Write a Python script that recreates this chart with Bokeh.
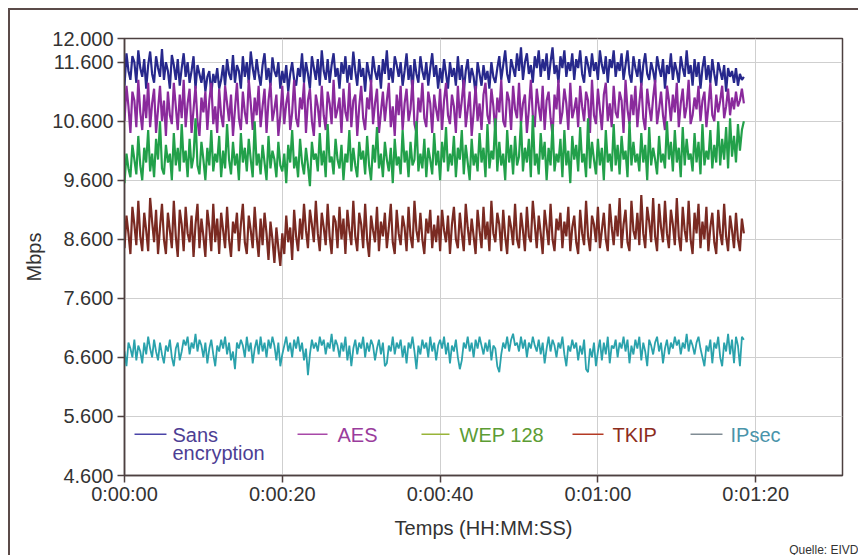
from bokeh.plotting import figure
from bokeh.models import FixedTicker, Range1d, Label, ColumnDataSource, Title
from bokeh.embed import file_html
from bokeh.resources import INLINE

# ---------------- data (one value every 0.25 s) ----------------
sans = [
    11200, 11750, 11450, 11300, 11700, 11600, 11250, 11800, 11500, 11350,
    11650, 11150, 11550, 11780, 11400, 11250, 11700, 11500, 11350, 11820,
    11300, 11600, 11450, 11150, 11720, 11550, 11300, 11650, 11200, 11500,
    11750, 11350, 11600, 11250, 11450, 11700, 11150, 11550, 11400, 11250,
    11500, 11100, 11350, 11450, 11050, 11400, 11250, 11500, 11150, 11300,
    11550, 11200, 11650, 11400, 11300, 11720, 11250, 11550, 11450, 11150,
    11700, 11350, 11600, 11250, 11780, 11500, 11300, 11650, 11400, 11200,
    11550, 11750, 11300, 11500, 11200, 11680, 11450, 11350, 11600, 11150,
    11450, 11250, 11550, 11100, 11400, 11600, 11300, 11200, 11500, 11350,
    11750, 11250, 11600, 11400, 11150, 11700, 11500, 11300, 11650, 11200,
    11800, 11450, 11300, 11650, 11250, 11550, 11750, 11350, 11500, 11150,
    11600, 11400, 11700, 11250, 11550, 11300, 11780, 11450, 11200, 11650,
    11350, 11500, 11100, 11600, 11400, 11250, 11700, 11450, 11300, 11550,
    11150, 11650, 11400, 11800, 11300, 11500, 11250, 11700, 11550, 11350,
    11600, 11200, 11450, 11750, 11300, 11550, 11100, 11650, 11400, 11250,
    11700, 11450, 11300, 11600, 11200, 11500, 11750, 11350, 11550, 11150,
    11500, 11250, 11650, 11400, 11150, 11600, 11350, 11500, 11200, 11700,
    11300, 11550, 11100, 11450, 11650, 11250, 11500, 11350, 11050, 11600,
    11400, 11200, 11550, 11300, 11450, 11150, 11600, 11350, 11250, 11500,
    11700, 11300, 11550, 11800, 11400, 11250, 11650, 11500, 11350, 11750,
    11450, 11850, 11300, 11600, 11750, 11400, 11550, 11250, 11700, 11500,
    11800, 11350, 11650, 11450, 11750, 11300, 11600, 11850, 11400, 11550,
    11250, 11700, 11500, 11800, 11350, 11600, 11450, 11750, 11300, 11650,
    11500, 11800, 11400, 11250, 11700, 11550, 11350, 11750, 11450, 11600,
    11300, 11800, 11550, 11400, 11700, 11250, 11650, 11500, 11800, 11350,
    11600, 11450, 11750, 11300, 11550, 11800, 11400, 11250, 11700, 11500,
    11350, 11650, 11200, 11550, 11750, 11400, 11300, 11600, 11450, 11250,
    11700, 11500, 11350, 11650, 11150, 11550, 11400, 11750, 11300, 11600,
    11450, 11250, 11700, 11500, 11350, 11800, 11400, 11550, 11200, 11650,
    11350, 11600, 11150, 11500, 11700, 11300, 11550, 11250, 11650, 11400,
    11200, 11600, 11450, 11300, 11550, 11100, 11500, 11350, 11450, 11250,
    11500, 11200, 11400, 11300, 11350,
]
aes = [
    10600, 11200, 10850, 10400, 11100, 10950, 10500, 11300, 10750, 10450,
    11050, 10650, 11250, 10500, 10900, 11150, 10400, 10800, 11200, 10600,
    10950, 10350, 11100, 10700, 10550, 11250, 10850, 10450, 11050, 10650,
    11300, 10500, 10900, 11150, 10400, 10800, 11200, 10600, 10350, 11000,
    10750, 11100, 10450, 10950, 11250, 10550, 10850, 10400, 11150, 10700,
    10500, 11200, 10900, 10600, 11050, 10350, 10800, 11250, 10650, 10450,
    11100, 10750, 10550, 11300, 10900, 10450, 11000, 10700, 11200, 10500,
    10850, 11150, 10400, 10950, 11250, 10600, 10800, 11050, 10350, 10700,
    11200, 10550, 10900, 11100, 10450, 10750, 11300, 10650, 10500, 11000,
    10800, 11250, 10400, 10950, 11150, 10600, 10350, 11050, 10850, 10500,
    11200, 10700, 10450, 11100, 10900, 10550, 11300, 10650, 10800, 11000,
    10400, 11150, 10750, 10600, 11250, 10500, 10950, 11050, 10350, 10850,
    11200, 10650, 10450, 11000, 10800, 11300, 10550, 10900, 11150, 10400,
    10750, 11100, 10600, 10950, 11250, 10500, 10850, 10350, 11050, 10700,
    11200, 10450, 10900, 11150, 10600, 10800, 11300, 10550, 10400, 11000,
    10750, 11250, 10650, 10500, 11100, 10900, 10400, 11050, 10800, 10600,
    11150, 10450, 10950, 11250, 10700, 10550, 11050, 10850, 10400, 11200,
    10650, 10950, 11300, 10500, 10800, 11100, 10350, 10750, 11200, 10600,
    10900, 10450, 11050, 11250, 10700, 10550, 11150, 10850, 10400, 11000,
    10750, 11300, 10600, 10500, 11100, 10950, 10450, 11200, 10800, 10650,
    11250, 10550, 10900, 11050, 10400, 10800, 11300, 10700, 10500, 11150,
    10850, 10600, 11200, 10450, 10950, 11100, 10650, 10350, 11050, 10800,
    11300, 10550, 10750, 11150, 10900, 10450, 11250, 10650, 10800, 11000,
    10500, 11200, 10850, 10600, 11100, 10950, 10400, 11300, 10700, 10550,
    11150, 10800, 10450, 11050, 11250, 10600, 10900, 10500, 11200, 10750,
    10650, 11100, 10950, 10400, 11300, 10800, 10550, 11050, 10700, 11200,
    10500, 10900, 11250, 10650, 10450, 11150, 10850, 10600, 11000, 11300,
    10550, 10800, 11100, 10700, 10450, 11200, 10950, 10600, 11050, 10750,
    11250, 10500, 10900, 11150, 10650, 10850, 11300, 10550, 10700, 11000,
    10800, 11200, 10600, 10950, 11100, 10500, 10850, 11250, 10700, 10600,
    11050, 10750, 10950, 11200, 10650, 10850, 11150, 10700, 11000, 10800,
    11100, 10850, 10950, 11150, 10900,
]
wep = [
    9550, 10050, 9800, 9650, 10200, 9950, 9700, 10350, 9850, 9600,
    10150, 9900, 10450, 9750, 10050, 9650, 10300, 9950, 10600, 9800,
    9700, 10200, 9900, 10050, 9600, 10400, 9850, 10150, 9750, 10550,
    9900, 10100, 9650, 10300, 9800, 10000, 10650, 9850, 9700, 10250,
    9950, 9600, 10150, 9850, 10450, 9750, 10050, 9900, 10350, 9650,
    10100, 9800, 10550, 9950, 9700, 10250, 9850, 10050, 9600, 10400,
    9900, 10150, 9750, 10300, 9950, 9650, 10600, 9850, 10050, 9700,
    10200, 9900, 9600, 10350, 9800, 10100, 9950, 9650, 10250, 9850,
    9750, 10050, 9550, 10200, 9900, 10450, 9800, 10000, 9650, 10300,
    9900, 9700, 10150, 9850, 9500, 10250, 9950, 10050, 9750, 10400,
    9850, 10100, 9650, 10550, 9900, 10000, 9700, 10300, 9950, 9800,
    10200, 9600, 10050, 9900, 10450, 9750, 10150, 9850, 9650, 10250,
    9950, 10100, 9700, 10350, 9850, 9600, 10200, 9900, 10500, 9800,
    10050, 9650, 10250, 9950, 9750, 10150, 9550, 10300, 9850, 10000,
    9700, 10450, 9900, 10100, 9650, 10250, 9850, 9950, 10600, 9750,
    10050, 9800, 10300, 9650, 10150, 9950, 9700, 10400, 9850, 10100,
    9600, 10250, 9900, 10500, 9750, 10050, 9850, 10350, 9650, 10150,
    9950, 10450, 9700, 10200, 9900, 9600, 10300, 9850, 10050, 9750,
    10400, 9900, 10150, 9650, 10550, 9800, 10100, 9950, 10650, 9750,
    10250, 9850, 10050, 9600, 10450, 9900, 10200, 9700, 10350, 9850,
    10000, 10600, 9750, 10150, 9900, 10300, 9650, 10700, 9850, 10050,
    9700, 10400, 9950, 10250, 9600, 10150, 9850, 10550, 9750, 10050,
    9900, 10300, 9650, 10450, 9850, 10100, 9550, 10350, 9950, 10200,
    9750, 10500, 9900, 10050, 9650, 10650, 9800, 10250, 9950, 9700,
    10300, 9850, 10150, 9600, 10450, 9900, 10050, 9750, 10550, 9850,
    10200, 9700, 10350, 9950, 10100, 9650, 10600, 9850, 10250, 9900,
    10050, 9750, 10400, 9900, 10200, 9600, 10500, 9850, 10150, 9950,
    9700, 10350, 9900, 10050, 9800, 10600, 9950, 10250, 9750, 10450,
    9900, 10150, 9650, 10500, 9850, 10300, 9950, 10050, 9750, 10400,
    9900, 10250, 9700, 10550, 9850, 10100, 9950, 10450, 9800, 10200,
    9900, 10600, 9850, 10300, 9950, 10500, 9800, 10650, 10000, 10350,
    9900, 10550, 10100, 10450, 10600,
]
tkip = [
    8450, 9000, 8700, 8350, 9150, 8850, 8500, 9250, 8650, 8400,
    9050, 8750, 8400, 9300, 8900, 8550, 9100, 8350, 8800, 9200,
    8600, 8350, 9050, 8750, 8450, 9250, 8650, 8300, 9100, 8850,
    8400, 9150, 8700, 8550, 9000, 8300, 8850, 9200, 8450, 8950,
    8650, 8300, 9100, 8800, 8400, 9200, 8550, 8950, 8350, 9050,
    8750, 8450, 9150, 8600, 8300, 8900, 8700, 9050, 8400, 8850,
    9200, 8550, 8350, 9000, 8750, 8450, 9150, 8650, 8300, 8950,
    8500, 9050, 8700, 8250, 8900, 8600, 8200, 8800, 8450, 8150,
    8700, 8350, 9000, 8550, 8800, 8250, 9100, 8650, 8400, 8950,
    8600, 9200, 8750, 8450, 9100, 8850, 8550, 9250, 8700, 8400,
    9050, 8800, 8500, 9200, 8650, 8350, 9000, 8900, 8450, 9150,
    8600, 8950, 8350, 9100, 8750, 8500, 9250, 8650, 8400, 9050,
    8850, 8450, 9200, 8600, 8300, 9000, 8750, 8550, 9150, 8400,
    8900, 8650, 9050, 8450, 8800, 9200, 8550, 8350, 9100, 8700,
    8500, 9000, 8800, 8400, 9150, 8650, 8450, 9250, 8750, 8550,
    9050, 8600, 8350, 8950, 8700, 9100, 8450, 8850, 8550, 9000,
    8400, 9100, 8750, 8550, 9000, 8350, 8850, 9150, 8600, 8450,
    9050, 8700, 8400, 9200, 8800, 8500, 8950, 8650, 8350, 9100,
    8750, 8450, 9150, 8600, 8900, 8400, 9250, 8700, 8550, 9050,
    8850, 8400, 9100, 8650, 8350, 9000, 8800, 8500, 9200, 8600,
    8450, 9050, 8750, 8400, 9150, 8650, 8550, 9250, 8850, 8450,
    9000, 8700, 8350, 9100, 8800, 8500, 9200, 8600, 8400, 8950,
    8750, 9050, 8450, 8900, 8650, 9150, 8400, 8800, 9000, 8550,
    8350, 9100, 8700, 8500, 9250, 8650, 8400, 9000, 8850, 8550,
    9150, 8450, 8750, 9050, 8600, 8400, 9200, 8800, 8500, 9000,
    8650, 9300, 8450, 8850, 9100, 8550, 8400, 9250, 8750, 8600,
    9050, 8500, 9350, 8700, 8450, 9150, 8900, 8550, 9300, 8650,
    8400, 9200, 8800, 8550, 9250, 8700, 8450, 9100, 8850, 8500,
    9300, 8650, 8400, 9150, 8750, 8550, 9250, 8600, 8350, 9050,
    8700, 9200, 8450, 8900, 8600, 9150, 8400, 8800, 9050, 8550,
    8350, 9100, 8700, 8500, 9200, 8650, 8400, 9000, 8750, 8450,
    9050, 8600, 8400, 8950, 8700,
]
ipsec = [
    6700, 6450, 6850, 6750, 6600, 6900, 6550, 6800, 6700, 6500,
    6850, 6650, 6950, 6750, 6600, 6900, 6700, 6550, 6850, 6650,
    6500, 6800, 6700, 6900, 6600, 6450, 6750, 6850, 6550, 6700,
    6900, 6800, 6950, 6650, 6850, 6750, 7000, 6700, 6900, 6800,
    6600, 6850, 6500, 6750, 6900, 6650, 6450, 6800, 6700, 6900,
    6750, 6950, 6650, 6850, 6550, 6700, 6400, 6850, 6750, 6900,
    6800, 6600, 6950, 6700, 6850, 6500, 6750, 6900, 6650, 6950,
    6700, 6850, 6600, 6900, 6750, 6950, 6800, 6550, 6850, 6450,
    6650, 6800, 6950, 6700, 6850, 6600, 6900, 6750, 6950, 6700,
    6850, 6550, 6750, 6300, 6650, 6900, 6750, 6850, 6700, 6950,
    6800, 6900, 6650, 6850, 6750, 7000, 6700, 6900, 6800, 6600,
    6850, 6700, 6950, 6550, 6800, 6450, 6750, 6900, 6650, 6850,
    6750, 6950, 6600, 6850, 6700, 6900, 6800, 6550, 6750, 6900,
    6650, 6850, 6450, 6500, 6800, 6700, 6950, 6650, 6850, 6750,
    6900, 6600, 6800, 6500, 6850, 6750, 6950, 6700, 6400, 6800,
    6650, 6900, 6750, 6850, 6600, 6950, 6700, 6850, 6550, 6800,
    6900, 6750, 6950, 6650, 6850, 6500, 6800, 6700, 6900, 6600,
    6400, 6550, 6850, 6750, 6950, 6700, 6850, 6600, 6900, 6750,
    6950, 6800, 6650, 6850, 6700, 6900, 6550, 6800, 6750, 6450,
    6350, 6650, 6850, 6750, 6950, 6700, 6900, 7000, 6800, 6850,
    6700, 6950, 6750, 6900, 6600, 6850, 6750, 6950, 6800, 6700,
    6900, 6650, 6850, 6500, 6750, 6950, 6700, 6900, 6800, 6600,
    6850, 6750, 6950, 6650, 6450, 6800, 6700, 6900, 6750, 6850,
    6550, 6800, 6650, 6900, 6400, 6350, 6750, 6600, 6850, 6450,
    6700, 6900, 6550, 6850, 6650, 6950, 6500, 6800, 6750, 6900,
    6600, 6850, 6750, 6950, 6700, 6900, 6500, 6800, 6650, 6900,
    6750, 6950, 6550, 6850, 6700, 6450, 6900, 6800, 6650, 6850,
    6950, 6700, 6850, 6500, 6750, 6900, 6650, 6850, 6750, 6950,
    6800, 6900, 6650, 6850, 6750, 7000, 6700, 6900, 6800, 6650,
    6850, 6950, 6750, 6600, 6450, 6800, 6700, 6900, 6500, 6850,
    6750, 6950, 6600, 6450, 6850, 6700, 7000, 6650, 6900, 6500,
    6950, 6800, 6450, 6950, 6900,
]
SAMPLE_STEP_S = 0.25  # seconds between samples

series_names = ["Sans", "AES", "WEP 128", "TKIP", "IPsec"]
x_ticks = [0, 20, 40, 60, 80]
x_tick_labels = ["0:00:00", "0:00:20", "0:00:40", "0:01:00", "0:01:20"]
y_ticks = [4600, 5600, 6600, 7600, 8600, 9600, 10600, 11600, 12000]
y_tick_labels = ["4.600", "5.600", "6.600", "7.600", "8.600", "9.600",
                 "10.600", "11.600", "12.000"]

# ---------------- styling ----------------
FONT = "Liberation Sans"
line_colors = ["#27288c", "#8a2a9c", "#22a04a", "#7a2a22", "#2aa2ac"]
line_widths = [2.2, 2.2, 2.2, 2.2, 1.8]
legend_line_colors = ["#4a44a8", "#a848a8", "#98b438", "#b43a24", "#808c94"]
legend_text_colors = ["#4d3e94", "#9a3c9c", "#5c9c34", "#8c2c1c", "#4a94aa"]
AXIS_COLOR = "#4d4040"

p = figure(width=850, height=547, output_backend="svg", toolbar_location=None,
           x_range=Range1d(0, 91), y_range=Range1d(4600, 12000),
           min_border_left=114, min_border_right=18, min_border_top=28,
           min_border_bottom=82)
p.styles = {"margin-top": "8px", "margin-left": "8px",
            "border-top": "2px solid #5b4b49", "border-left": "2px solid #5b4b49"}
p.background_fill_color = "white"
p.border_fill_color = "white"
p.outline_line_color = AXIS_COLOR
p.outline_line_width = 1.5

for vals, col, lw in zip([sans, aes, wep, tkip, ipsec], line_colors, line_widths):
    t = [i * SAMPLE_STEP_S for i in range(len(vals))]
    p.line(t, vals, line_color=col, line_width=lw)

# axes
p.xaxis.ticker = FixedTicker(ticks=x_ticks)
p.xaxis.major_label_overrides = dict(zip(x_ticks, x_tick_labels))
p.yaxis.ticker = FixedTicker(ticks=y_ticks)
p.yaxis.major_label_overrides = dict(zip(y_ticks, y_tick_labels))
for ax in (p.xaxis, p.yaxis):
    ax.axis_line_color = AXIS_COLOR
    ax.axis_line_width = 1.5
    ax.major_tick_line_color = AXIS_COLOR
    ax.major_tick_line_width = 1.5
    ax.major_tick_out = 7
    ax.major_tick_in = 0
    ax.minor_tick_line_color = None
    ax.major_label_text_font = FONT
    ax.major_label_text_font_size = "20px"
    ax.major_label_text_color = "#333333"
    ax.axis_label_text_font = FONT
    ax.axis_label_text_font_size = "20px"
    ax.axis_label_text_font_style = "normal"
    ax.axis_label_text_color = "#333333"
p.xaxis.axis_label = "Temps (HH:MM:SS)"
p.yaxis.axis_label = "Mbps"
p.xaxis.major_label_standoff = 0
p.yaxis.major_label_standoff = 4
p.xaxis.axis_label_standoff = 9
p.yaxis.axis_label_standoff = 4

p.xgrid.grid_line_color = "#cfcfcf"
p.ygrid.grid_line_color = "#cfcfcf"
p.xgrid.grid_line_width = 1
p.ygrid.grid_line_width = 1

# ---------------- manual legend (layout in data coordinates) ----------------
leg_line_x0 = [1.27, 21.93, 37.64, 56.78, 71.74]
leg_line_x1 = [5.32, 25.73, 41.19, 60.71, 75.79]
leg_text_x = [6.08, 27.0, 42.46, 61.85, 76.81]
LEG_LINE_Y = 5300
LEG_TEXT_Y = 5280
LEG_TEXT_Y2 = 4975

leg_src = ColumnDataSource(dict(x0=leg_line_x0, x1=leg_line_x1,
                                y=[LEG_LINE_Y] * 5, color=legend_line_colors))
p.segment(x0="x0", y0="y", x1="x1", y1="y", line_color="color",
          line_width=1.5, source=leg_src)
for name, tx, tc in zip(series_names, leg_text_x, legend_text_colors):
    p.add_layout(Label(x=tx, y=LEG_TEXT_Y, text=name, text_color=tc,
                       text_font=FONT, text_font_size="20px",
                       text_baseline="middle", text_align="left"))
p.add_layout(Label(x=leg_text_x[0], y=LEG_TEXT_Y2, text="encryption",
                   text_color=legend_text_colors[0], text_font=FONT,
                   text_font_size="20px", text_baseline="middle",
                   text_align="left"))

# source note below the chart
p.add_layout(Title(text="Quelle: EIVD", align="right", vertical_align="middle",
                   text_font=FONT, text_font_size="12px",
                   text_font_style="normal", text_color="#333333",
                   standoff=0, offset=-16), "below")

open("out.html", "w").write(file_html(p, INLINE))
